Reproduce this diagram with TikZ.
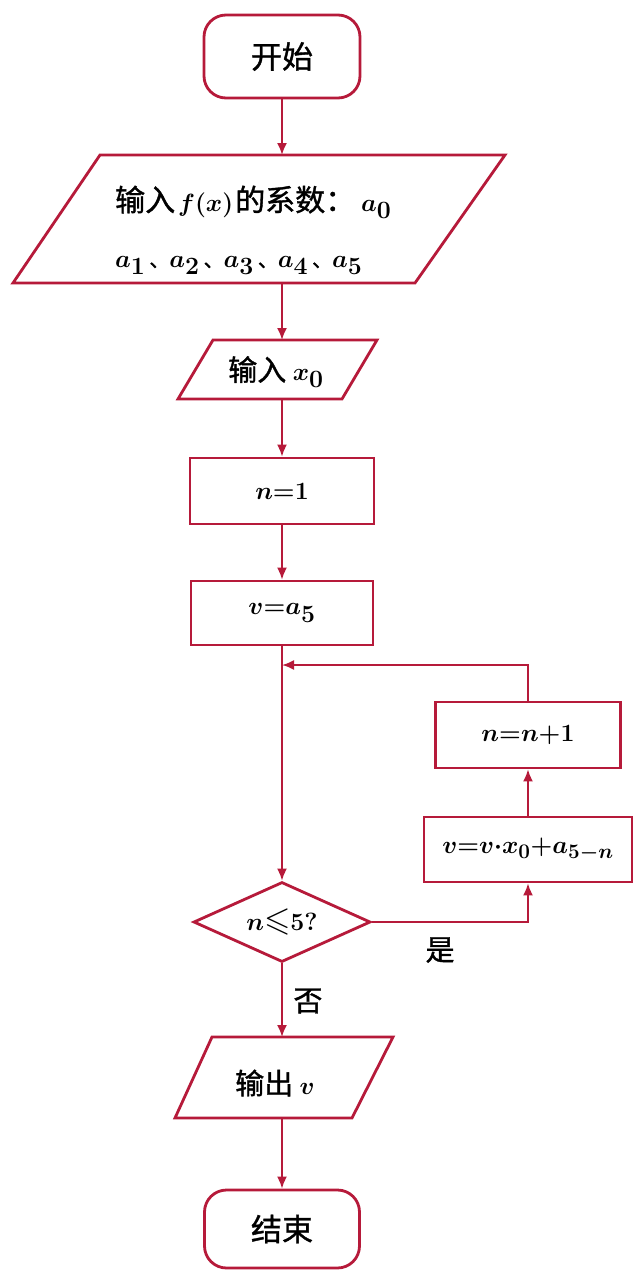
\documentclass[tikz,border=0pt]{standalone}
\usepackage{amsmath,amssymb}
\usepackage{fontspec}
\newfontfamily\cjk{Noto Sans CJK SC}[FakeBold=1.2]
\usetikzlibrary{shapes.geometric,arrows.meta}
\definecolor{fc}{RGB}{182,26,58}
\newcommand\mth[2][34]{{\fontsize{#1}{40}\selectfont\boldmath$#2$}}
\newcommand\dun{\hspace{4pt}{\fontsize{20}{20}\selectfont 、}}
\begin{document}
\begin{tikzpicture}[x=1pt,y=-1pt,
  outline/.style={draw=fc, line width=2.8pt, line join=miter},
  term/.style={outline, rounded corners=22pt, font=\cjk\fontsize{31}{36}\selectfont, inner sep=0pt},
  proc/.style={outline, font=\cjk\fontsize{29}{34}\selectfont, inner sep=0pt},
  cond/.style={outline, diamond, aspect=2.2, inner sep=0pt, font=\cjk\fontsize{29}{34}\selectfont},
  txt/.style={font=\cjk\fontsize{29}{34}\selectfont, inner sep=0pt},
  flow/.style={draw=fc, line width=1.9pt, -{Latex[length=12pt,width=10pt]}},
  plain/.style={draw=fc, line width=1.9pt}]
\useasboundingbox[fill=white] (0,0) rectangle (635,1270);

% start
\node[term, minimum width=156pt, minimum height=83pt] (start) at (282,56.5) {开始};

% input coefficients
\draw[outline] (100,155) -- (505,155) -- (415,283) -- (13,283) -- cycle;
\coordinate (p1top) at (282,155);
\coordinate (p1bot) at (282,283);
\node[txt, anchor=base west, font=\cjk\fontsize{30}{35}\selectfont] (p1a) at (115,211) {输入\hspace{3pt}\mth[35]{f(x)}\hspace{2pt}的系数：\hspace{6pt}\mth[35]{a_0}};
\node[txt, anchor=base west] (p1b) at (115,267) {\mth{a_1}\dun\mth{a_2}\dun\mth{a_3}\dun\mth{a_4}\dun\mth{a_5}};

% input x0
\draw[outline] (213,340) -- (377,340) -- (342,399) -- (178,399) -- cycle;
\coordinate (p2top) at (282,340);
\coordinate (p2bot) at (282,399);
\node[txt] (p2) at (276,372) {输入 \mth{x_0}};

% n=1
\node[proc, minimum width=184pt, minimum height=66pt] (r1) at (282,491) {\mth{n{=}1}};
% v=a5
\node[proc, minimum width=182pt, minimum height=64pt] (r2) at (282,613) {\mth{v{=}a_5}};

\coordinate (junc) at (282,665);

% decision
\node[cond, minimum width=177pt, minimum height=80pt] (d) at (282,922) {\mth{n{\leqslant}5?}};

% loop body
\node[proc, minimum width=208pt, minimum height=65pt] (vb) at (528,849.5) {\mth[31]{v{=}v{\cdot}x_0{+}a_{5-n}}};
\node[proc, minimum width=185pt, minimum height=66pt] (nb) at (528,735) {\mth{n{=}n{+}1}};

% output
\draw[outline] (212,1037) -- (393,1037) -- (352,1118) -- (175,1118) -- cycle;
\coordinate (p3top) at (282,1037);
\coordinate (p3bot) at (282,1118);
\node[txt] (p3) at (275,1083) {输出 \mth{v}};

% end
\node[term, minimum width=155pt, minimum height=78pt] (end) at (282,1229) {结束};

% labels
\node[txt] (yes) at (440,950) {是};
\node[txt] (no) at (308,1001) {否};

% connectors
\draw[flow] (start) -- (p1top);
\draw[flow] (p1bot) -- (p2top);
\draw[flow] (p2bot) -- (r1);
\draw[flow] (r1) -- (r2);
\draw[flow] (r2) -- (d);
\draw[flow] (d.east) -| (vb.south);
\draw[flow] (vb) -- (nb);
\draw[flow] (nb.north) |- (junc);
\draw[flow] (d) -- (p3top);
\draw[flow] (p3bot) -- (end);
\end{tikzpicture}
\end{document}
